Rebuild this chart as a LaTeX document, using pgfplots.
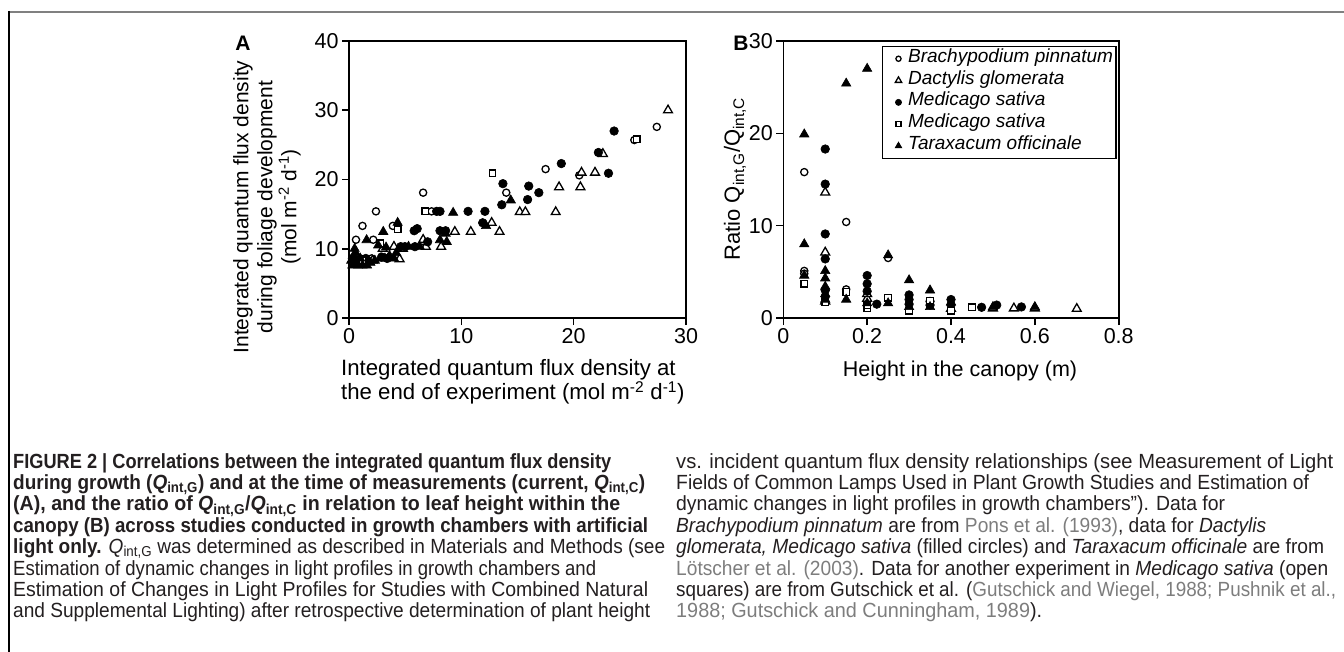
\documentclass[border=0pt]{standalone}
\usepackage{fontspec}
\setmainfont{Liberation Sans}
\newfontfamily\capfont[FakeStretch=0.93]{Liberation Sans}
\usepackage{graphicx}
\usepackage{pgfplots}
\pgfplotsset{compat=1.18}
\definecolor{capgray}{RGB}{125,125,125}
\definecolor{captext}{RGB}{35,31,32}
\newsavebox\capline
\newcommand\fitline[2]{\sbox\capline{#2}\pgfmathsetmacro\capfac{#1/\the\wd\capline}\scalebox{\capfac}[1]{\usebox\capline}}
\pgfplotsset{
  myax/.style={scale only axis, axis line style={line width=1.6pt}, major tick style={line width=1.6pt, black},
    major tick length=7pt, tick align=outside, xtick pos=left, ytick pos=left,
    ticklabel style={font=\fontsize{21.5}{24}\selectfont},
    /pgf/number format/assume math mode=true, clip=false},
  ocirc/.style={only marks, mark=*, mark size=3.6pt, mark options={fill=white, draw=black, line width=1.3pt}},
  otri/.style={only marks, mark=triangle*, mark size=5.1pt, mark options={fill=white, draw=black, line width=1.3pt}},
  fcirc/.style={only marks, mark=*, mark size=4.3pt, mark options={fill=black, draw=black, line width=0.6pt}},
  osq/.style={only marks, mark=square*, mark size=3.3pt, mark options={fill=white, draw=black, line width=1.3pt}},
  ftri/.style={only marks, mark=triangle*, mark size=5.4pt, mark options={fill=black, draw=black, line width=0.6pt}},
}
\begin{document}
\begin{tikzpicture}
\path[use as bounding box] (0pt,0pt) rectangle (1344pt,-652pt);
\draw[gray, line width=2pt] (9pt,-12pt) -- (1344pt,-12pt);
\draw[black, line width=2pt] (9pt,-11pt) -- (9pt,-652pt);

% ---------- Panel A ----------
\begin{axis}[myax, at={(349pt,-318pt)}, anchor=south west, width=337pt, height=277pt,
  xmin=0, xmax=30, ymin=0, ymax=40, xtick={0,10,20,30}, ytick={0,10,20,30,40}]
\addplot[ocirc] coordinates {(0.62,11.3) (1.2,13.3) (2.4,15.4) (2.16,11.3) (3.9,13.3) (6.6,18.1) (7.35,15.4) (14.0,18.1) (17.5,21.5) (20.5,20.6) (25.4,25.7) (27.4,27.6) (1.0,8.6) (2.0,8.6)};
\addplot[otri] coordinates {(0.9,8.3) (2.1,8.3) (4.5,8.5) (3.0,10.0) (4.0,10.3) (4.8,10.0) (6.67,11.0) (6.84,10.3) (8.2,10.3) (9.42,12.45) (10.84,12.45) (12.7,13.75) (13.4,12.45) (15.2,15.3) (15.7,15.3) (18.4,15.3) (18.7,18.9) (20.6,18.9) (20.7,21.0) (21.9,21.0) (22.6,23.7) (28.4,30.0) (6.6,11.3)};
\addplot[fcirc] coordinates {(0.3,8.6) (1.0,8.3) (1.5,8.6) (2.9,8.8) (3.4,8.6) (4.98,10.3) (5.87,10.3) (5.8,12.6) (6.07,12.9) (7.0,11.0) (7.8,15.4) (8.1,15.4) (8.1,12.6) (8.6,12.6) (10.6,15.4) (12.1,15.4) (11.9,13.75) (13.7,19.4) (13.6,16.35) (15.9,17.1) (16.0,19.05) (16.9,18.1) (18.9,22.3) (22.2,23.9) (23.1,20.9) (23.6,27.0) (4.6,10.3)};
\addplot[osq] coordinates {(1.2,8.3) (2.76,10.77) (4.33,12.8) (6.8,15.4) (12.77,20.9) (25.6,25.8)};
\addplot[ftri] coordinates {(0.3,7.6) (0.5,8.0) (0.8,7.6) (1.2,7.6) (1.6,7.6) (1.9,8.0) (2.3,8.3) (0.4,9.0) (0.5,10.0) (1.0,8.6) (2.8,8.6) (3.2,8.6) (3.6,9.0) (4.0,8.6) (4.2,9.4) (3.3,10.2) (0.2,8.3) (0.6,9.4) (2.6,10.5) (1.57,11.26) (3.05,12.45) (4.33,13.76) (5.3,10.3) (6.3,10.3) (8.1,11.26) (8.7,11.0) (9.27,15.2) (12.2,13.3) (14.4,17.0) (8.6,12.2)};
\end{axis}

% ---------- Panel B ----------
\begin{axis}[myax, at={(783.3pt,-318pt)}, anchor=south west, width=335.4pt, height=277pt,
  xmin=0, xmax=0.8, ymin=0, ymax=30, xtick={0,0.2,0.4,0.6,0.8}, xticklabels={0,0.2,0.4,0.6,0.8}, ytick={0,10,20,30},
  legend style={at={(0.994,0.983)}, anchor=north east, draw=black, line width=1.3pt,
    font=\fontsize{19}{22}\selectfont\itshape, inner xsep=3pt, inner ysep=1.5pt, row sep=0pt,
    nodes={inner sep=0pt, text height=14.5pt, text depth=7.3pt},
    /tikz/every even column/.append style={column sep=1pt}},
  legend cell align=left,
  legend image code/.code={\path (0pt,0pt) (21pt,0pt); \draw[#1, every mark/.append style={scale=0.72}] plot coordinates {(12pt,0pt)};}]
\addplot[ocirc] coordinates {(0.05,15.8) (0.15,10.4) (0.05,5.1) (0.15,3.1) (0.25,6.5) (0.2,1.8) (0.05,4.8)};
\addlegendentry{Brachypodium pinnatum}
\addplot[otri] coordinates {(0.1,13.6) (0.1,7.1) (0.2,2.1) (0.1,1.8) (0.4,1.0) (0.5,1.05) (0.55,1.05) (0.6,1.05) (0.7,1.0) (0.2,2.6)};
\addlegendentry{Dactylis glomerata}
\addplot[fcirc] coordinates {(0.1,18.3) (0.1,14.5) (0.1,9.1) (0.1,6.4) (0.1,3.0) (0.1,2.3) (0.2,4.6) (0.2,3.7) (0.2,2.9) (0.223,1.5) (0.3,2.5) (0.3,2.0) (0.35,1.8) (0.4,2.0) (0.4,1.4) (0.473,1.16) (0.509,1.4) (0.568,1.2) (0.35,1.4) (0.3,1.5)};
\addlegendentry{Medicago sativa}
\addplot[osq] coordinates {(0.05,3.7) (0.1,1.7) (0.15,2.8) (0.2,1.05) (0.2,1.4) (0.25,2.2) (0.3,0.8) (0.35,1.9) (0.4,0.8) (0.45,1.16)};
\addlegendentry{Medicago sativa}
\addplot[ftri] coordinates {(0.05,19.9) (0.05,8.0) (0.05,4.6) (0.15,25.4) (0.2,27.0) (0.1,5.1) (0.1,4.3) (0.1,3.4) (0.1,2.6) (0.1,2.0) (0.15,2.0) (0.25,6.8) (0.3,4.1) (0.35,3.0) (0.25,1.6) (0.2,1.6) (0.3,1.2) (0.35,1.2) (0.4,1.7) (0.6,1.2) (0.5,1.2)};
\addlegendentry{Taraxacum officinale}
\end{axis}

% ---------- labels ----------
\node[font=\fontsize{21}{24}\selectfont\bfseries] at (243pt,-43pt) {A};
\node[font=\fontsize{21}{24}\selectfont\bfseries] at (741pt,-43pt) {B};
\node[rotate=90, align=center, font=\fontsize{21}{24}\selectfont] at (267pt,-207pt)
  {Integrated quantum flux density\\during foliage development\\(mol m\textsuperscript{-2} d\textsuperscript{-1})};
\node[anchor=west, align=left, inner sep=0pt, font=\fontsize{22.2}{22}\selectfont] at (341pt,-382pt)
  {Integrated quantum flux density at\\the end of experiment (mol m\textsuperscript{-2} d\textsuperscript{-1})};
\node[rotate=90, font=\fontsize{22}{24}\selectfont] at (735pt,-179pt)
  {Ratio Q\textsubscript{int,G}/Q\textsubscript{int,C}};
\node[font=\fontsize{21.5}{24}\selectfont] at (960pt,-371pt) {Height in the canopy (m)};

% ---------- caption ----------
\node[anchor=north west, align=left, inner sep=0pt, text=captext, font=\capfont\fontsize{20.5}{21.4}\selectfont] at (13pt,-453pt)
{\fitline{598}{\bfseries FIGURE 2 | Correlations between the integrated quantum flux density}\\
\fitline{632}{\bfseries during growth (\textit{Q}\textsubscript{int,G}) and at the time of measurements (current, \textit{Q}\textsubscript{int,C})}\\
\fitline{607}{\bfseries (A), and the ratio of \textit{Q}\textsubscript{int,G}/\textit{Q}\textsubscript{int,C} in relation to leaf height within the}\\
\fitline{635}{\bfseries canopy (B) across studies conducted in growth chambers with artificial}\\
\fitline{652}{{\bfseries light only.} \textit{Q}\textsubscript{int,G} was determined as described in Materials and Methods (see}\\
\fitline{583}{Estimation of dynamic changes in light profiles in growth chambers and}\\
\fitline{635}{Estimation of Changes in Light Profiles for Studies with Combined Natural}\\
\fitline{637}{and Supplemental Lighting) after retrospective determination of plant height}};
\node[anchor=north west, align=left, inner sep=0pt, text=captext, font=\capfont\fontsize{20.5}{21.4}\selectfont] at (676pt,-453pt)
{\fitline{657}{vs. incident quantum flux density relationships (see Measurement of Light}\\
\fitline{633}{Fields of Common Lamps Used in Plant Growth Studies and Estimation of}\\
\fitline{549}{dynamic changes in light profiles in growth chambers”). Data for}\\
\fitline{590}{\textit{Brachypodium pinnatum} are from {\color{capgray}Pons et al. (1993)}, data for \textit{Dactylis}}\\
\fitline{648}{\textit{glomerata, Medicago sativa} (filled circles) and \textit{Taraxacum officinale} are from}\\
\fitline{652}{{\color{capgray}Lötscher et al. (2003)}. Data for another experiment in \textit{Medicago sativa} (open}\\
\fitline{660}{squares) are from Gutschick et al. ({\color{capgray}Gutschick and Wiegel, 1988; Pushnik et al.,}}\\
\fitline{366}{{\color{capgray}1988; Gutschick and Cunningham, 1989}).}};
\end{tikzpicture}
\end{document}
